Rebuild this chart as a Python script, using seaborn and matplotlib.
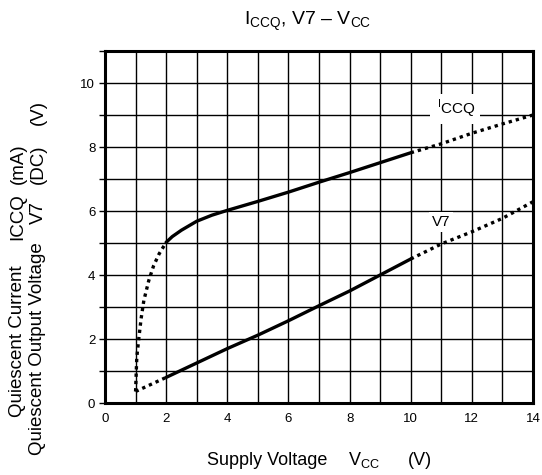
import matplotlib
matplotlib.use("Agg")
import matplotlib.pyplot as plt
import seaborn as sns
import numpy as np

# ---- data ----
iccq_low_x = [1.0, 1.02, 1.04, 1.11, 1.18, 1.27, 1.43, 1.59, 1.77, 2.0]
iccq_low_y = [0.36, 0.91, 1.43, 2.05, 2.63, 3.2, 3.82, 4.29, 4.66, 5.02]
iccq_mid_x = [2.0, 2.2, 2.5, 3.0, 3.5, 4.0, 5.0, 6.0, 7.0, 8.0, 9.0, 10.0]
iccq_mid_y = [5.02, 5.2, 5.4, 5.68, 5.87, 6.02, 6.3, 6.59, 6.9, 7.2, 7.51, 7.82]
iccq_high_x = [10.0, 11.0, 12.0, 13.0, 14.0]
iccq_high_y = [7.82, 8.1, 8.43, 8.72, 9.0]

v7_low_x = [1.0, 1.5, 2.0]
v7_low_y = [0.36, 0.58, 0.8]
v7_mid_x = [2.0, 3.0, 4.0, 5.0, 6.0, 7.0, 8.0, 9.0, 10.0]
v7_mid_y = [0.8, 1.25, 1.7, 2.12, 2.57, 3.04, 3.5, 4.0, 4.5]
v7_high_x = [10.0, 11.0, 12.0, 13.0, 14.0]
v7_high_y = [4.5, 4.97, 5.35, 5.77, 6.29]

x_ticks = [0, 2, 4, 6, 8, 10, 12, 14]
y_ticks = [0, 2, 4, 6, 8, 10]

sns.set_style("ticks")
plt.rcParams["font.family"] = ["Liberation Sans", "DejaVu Sans"]
plt.rcParams["mathtext.fontset"] = "custom"
plt.rcParams["mathtext.rm"] = "Liberation Sans"
plt.rcParams["text.color"] = "black"
plt.rcParams["axes.labelcolor"] = "black"
plt.rcParams["xtick.color"] = "black"
plt.rcParams["ytick.color"] = "black"

W, H = 542, 475
fig = plt.figure(figsize=(W / 100, H / 100), dpi=100)
ax = fig.add_axes([105 / W, 1 - 403 / H, (533 - 105) / W, (403 - 51) / H])

# grid
ax.set_xlim(0, 14)
ax.set_ylim(0, 11)
ax.set_xticks(np.arange(0, 15, 1), minor=True)
ax.set_yticks(np.arange(0, 12, 1), minor=True)
ax.set_xticks(x_ticks)
ax.set_yticks(y_ticks)
ax.grid(True, which="both", color="black", linewidth=1.0, zorder=1)
ax.set_axisbelow(True)

lw = 2.4
dot = (0, (1, 1.2))
for xs, ys, ls in [
    (iccq_low_x, iccq_low_y, dot),
    (iccq_mid_x, iccq_mid_y, "-"),
    (iccq_high_x, iccq_high_y, dot),
    (v7_low_x, v7_low_y, dot),
    (v7_mid_x, v7_mid_y, "-"),
    (v7_high_x, v7_high_y, dot),
]:
    sns.lineplot(x=xs, y=ys, ax=ax, color="black", linewidth=lw, linestyle=ls,
                 sort=False, estimator=None, zorder=3)

for sp in ax.spines.values():
    sp.set_linewidth(2.2)
    sp.set_color("black")

ax.tick_params(axis="y", which="both", direction="out", length=4.5, width=1.0,
               labelsize=9.5, pad=2.5, colors="black")
ax.tick_params(axis="x", which="both", length=0, labelsize=9.5, pad=7, colors="black")
ax.set_xlabel("")
ax.set_ylabel("")

# in-plot labels
ax.text(11.45, 9.19, " $^\\mathregular{I}$CCQ ", fontsize=11, ha="center", va="center",
        bbox=dict(facecolor="white", edgecolor="none", pad=2.5), zorder=2)
ax.text(11.0, 5.66, "V7", fontsize=11, ha="center", va="center",
        bbox=dict(facecolor="white", edgecolor="none", pad=2.0), zorder=2)

# title
fig.text(308 / W, 1 - 25 / H, "I$_\\mathregular{CCQ}$, V7 – V$_\\mathregular{CC}$",
         fontsize=14, ha="center", va="baseline")

# x label pieces
xl_y = 1 - 465 / H
fig.text(207 / W, xl_y, "Supply Voltage", fontsize=13, ha="left", va="baseline")
fig.text(348 / W, xl_y, "V$_\\mathregular{CC}$", fontsize=13, ha="left", va="baseline")
fig.text(408 / W, xl_y, "(V)", fontsize=13, ha="left", va="baseline")

# y label pieces (rotated)
def ytxt(xc, ybot, s):
    fig.text(xc / W, 1 - ybot / H, s, fontsize=13.5, rotation=90,
             ha="center", va="bottom")

ytxt(18, 417, "Quiescent Current")
ytxt(18, 240, "ICCQ")
ytxt(18, 184, "(mA)")
ytxt(38, 455, "Quiescent Output Voltage")
ytxt(38, 224, "V7")
ytxt(38, 184, "(DC)")
ytxt(38, 125, "(V)")

fig.savefig("out.png", dpi=100)
